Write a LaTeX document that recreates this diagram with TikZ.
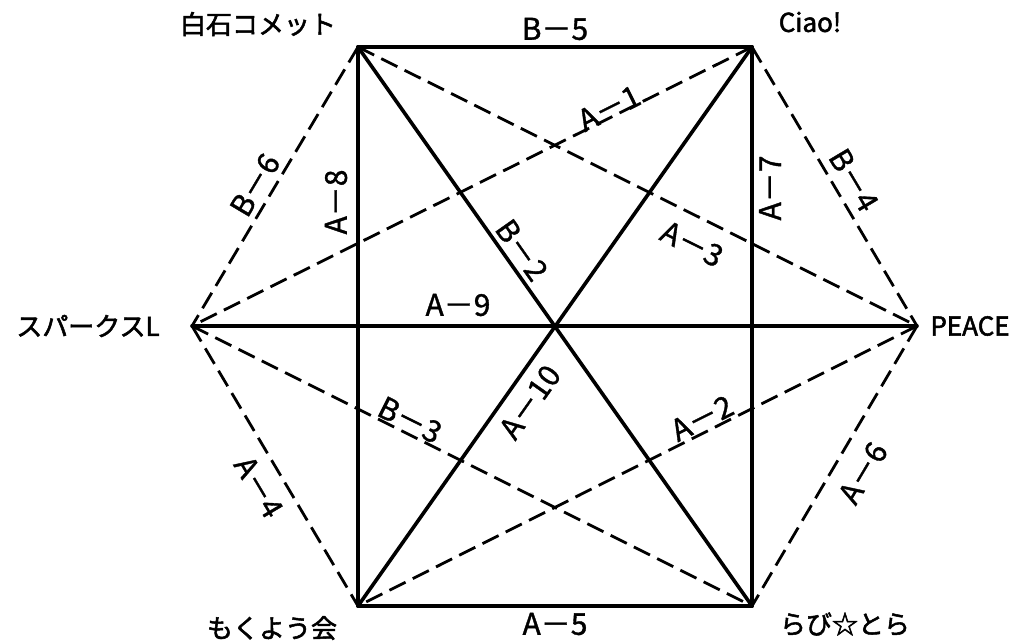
\documentclass[tikz,border=0pt]{standalone}
\usepackage{fontspec}
\setmainfont{Noto Sans CJK JP}
\newfontfamily\jpbold{Noto Sans CJK JP}[FakeBold=2]
\newfontfamily\jpmed{Noto Sans CJK JP}[FakeBold=1.2]
\begin{document}
\begin{tikzpicture}[x=1pt,y=-1pt,
  solidline/.style={line width=3.6pt, line cap=round},
  dashline/.style={line width=2.8pt, dash pattern=on 18pt off 8pt},
  vlabel/.style={font=\jpbold\fontsize{26}{28}\selectfont, inner sep=0pt},
  elabel/.style={font=\jpmed\fontsize{30}{32}\selectfont, inner sep=0pt}]
\useasboundingbox (0,0) rectangle (1035,644);
% vertices
\coordinate (TL) at (358,47);
\coordinate (TR) at (752,47);
\coordinate (R) at (917,326);
\coordinate (BR) at (752,606);
\coordinate (BL) at (358,606);
\coordinate (L) at (192,326);
% solid connectors
\draw[solidline] (TL) -- (TR);
\draw[solidline] (BL) -- (BR);
\draw[solidline] (TL) -- (BL);
\draw[solidline] (TR) -- (BR);
\draw[solidline] (L) -- (R);
\draw[solidline] (TL) -- (BR);
\draw[solidline] (TR) -- (BL);
% dashed connectors
\draw[dashline] (TL) -- (L);
\draw[dashline] (L) -- (BL);
\draw[dashline] (TR) -- (R);
\draw[dashline] (R) -- (BR);
\draw[dashline] (TL) -- (R);
\draw[dashline] (TR) -- (L);
\draw[dashline] (L) -- (BR);
\draw[dashline] (R) -- (BL);
% vertex labels
\node[vlabel] (nTL) at (258,24) {白石コメット};
\node[vlabel] (nTR) at (810,22) {Ciao!};
\node[vlabel] (nL) at (88,326) {スパークスL};
\node[vlabel] (nR) at (970,326) {PEACE};
\node[vlabel] (nBL) at (272,628) {もくよう会};
\node[vlabel] (nBR) at (845,624) {らび☆とら};
% edge labels
\node[elabel] (lB5) at (555,29) {B－5};
\node[elabel] (lA5) at (555,624) {A－5};
\node[elabel] (lA9) at (458,305) {A－9};
\node[elabel, rotate=90] (lA8) at (336,202) {A－8};
\node[elabel, rotate=90] (lA7) at (770,188) {A－7};
\node[elabel, rotate=59.2] (lB6) at (255,185) {B－6};
\node[elabel, rotate=-59.2] (lB4) at (854,180) {B－4};
\node[elabel, rotate=59.2] (lA6) at (863,473) {A－6};
\node[elabel, rotate=-59.2] (lA4) at (259,487) {A－4};
\node[elabel, rotate=26.5] (lA1) at (609,108) {A－1};
\node[elabel, rotate=-26.5] (lA3) at (692,244) {A－3};
\node[elabel, rotate=-54.8] (lB2) at (522,250) {B－2};
\node[elabel, rotate=54.8] (lA10) at (530,402) {A－10};
\node[elabel, rotate=-26.5] (lB3) at (410,420) {B－3};
\node[elabel, rotate=26.5] (lA2) at (702,418) {A－2};
\end{tikzpicture}
\end{document}
